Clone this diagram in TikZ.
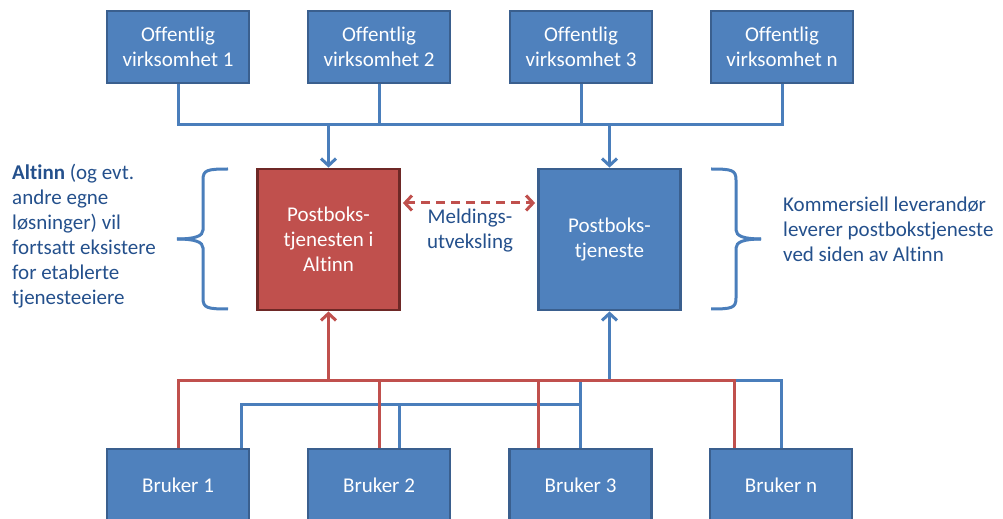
\documentclass[tikz,border=0pt]{standalone}
\usepackage{fontspec}
\setmainfont{Carlito}[Ligatures={NoCommon}]
\usetikzlibrary{arrows.meta}
\definecolor{boxblue}{HTML}{4F81BD}
\definecolor{boxblueline}{HTML}{3A5F8E}
\definecolor{boxred}{HTML}{C0504D}
\definecolor{boxredline}{HTML}{6E2826}
\definecolor{lineblue}{HTML}{4A7EBB}
\definecolor{linered}{HTML}{C0504D}
\definecolor{textblue}{HTML}{24508C}
\tikzset{
  box/.style={draw=boxblueline, fill=boxblue, line width=2.8bp, text=white, align=center,
    minimum width=142bp, minimum height=72bp, inner sep=0pt, font=\fontsize{21bp}{25bp}\selectfont},
  bigbox/.style={box, minimum width=142bp, minimum height=141bp},
  bl/.style={draw=lineblue, line width=3bp},
  rd/.style={draw=linered, line width=3bp},
  tip/.style={-{Straight Barb[length=7bp,width=15bp,line width=3bp]}},
  sidetext/.style={text=textblue, align=left, inner sep=0pt, font=\fontsize{21bp}{25bp}\selectfont},
  brace/.style={draw=lineblue, line width=3bp}
}
\begin{document}
\begin{tikzpicture}[x=1bp,y=-1bp]
\useasboundingbox (0,0) rectangle (1003,519);
% top boxes
\node[box] (t1) at (178,47) {Offentlig\\virksomhet 1};
\node[box] (t2) at (379,47) {Offentlig\\virksomhet 2};
\node[box] (t3) at (581,47) {Offentlig\\virksomhet 3};
\node[box] (t4) at (782,47) {Offentlig\\virksomhet n};
% middle boxes
\node[bigbox, draw=boxredline, fill=boxred] (red) at (328.5,239.5) {Postboks-\\tjenesten i\\Altinn};
\node[bigbox] (blue) at (609.5,239.5) {Postboks-\\tjeneste};
% bottom boxes
\node[box] (b1) at (178,485) {Bruker 1};
\node[box] (b2) at (379,485) {Bruker 2};
\node[box] (b3) at (580.5,485) {Bruker 3};
\node[box] (bn) at (781,485) {Bruker n};
% bus coordinates
\coordinate (topbus) at (0,125);
\coordinate (rbus) at (0,380);
\coordinate (bbus) at (0,404);
\coordinate (dashy) at (0,203);
% top connectors
\draw[bl] (t1.south) -- (t1.south |- topbus) -- (t4.south |- topbus) -- (t4.south);
\draw[bl] (t2.south) -- (t2.south |- topbus);
\draw[bl] (t3.south) -- (t3.south |- topbus);
\draw[bl,tip] (red.north |- topbus) -- (red.north);
\draw[bl,tip] (blue.north |- topbus) -- (blue.north);
% bottom blue connectors
\draw[bl] ([xshift=63bp]b1.north) -- ([xshift=63bp]b1.north |- bbus) -- (b3.north |- bbus);
\draw[bl] ([xshift=20bp]b2.north) -- ([xshift=20bp]b2.north |- bbus);
\draw[bl] (b3.north) -- (b3.north |- rbus) -- (bn.north |- rbus) -- (bn.north);
\draw[bl,tip] (blue.south |- rbus) -- (blue.south);
% bottom red connectors
\draw[rd] (b1.north) -- (b1.north |- rbus) -- ([xshift=-47bp]bn.north |- rbus) -- ([xshift=-47bp]bn.north);
\draw[rd] (b2.north) -- (b2.north |- rbus);
\draw[rd] ([xshift=-42bp]b3.north) -- ([xshift=-42bp]b3.north |- rbus);
\draw[rd,tip] (red.south |- rbus) -- (red.south);
% message exchange
\draw[rd, dash pattern=on 9bp off 6bp, {Straight Barb[length=7bp,width=15bp,line width=3bp]}-{Straight Barb[length=7bp,width=15bp,line width=3bp]}]
  ([xshift=2bp]red.east |- dashy) -- ([xshift=-2bp]blue.west |- dashy);
\node[sidetext, align=center] (mld) at (470,231) {Meldings-\\utveksling};
% braces
\draw[brace] (228,169) .. controls (207,169) and (203,170) .. (203,180) -- (203,230)
  .. controls (203,236) and (195,239) .. (177,239);
\draw[brace] (228,309) .. controls (207,309) and (203,308) .. (203,298) -- (203,248)
  .. controls (203,242) and (195,239) .. (177,239);
\draw[brace] (711,169) .. controls (732,169) and (736,170) .. (736,180) -- (736,230)
  .. controls (736,236) and (744,239) .. (761,239);
\draw[brace] (711,309) .. controls (732,309) and (736,308) .. (736,298) -- (736,248)
  .. controls (736,242) and (744,239) .. (761,239);
% side texts
\node[sidetext, anchor=west] (lefttext) at (12,236) {\textbf{Altinn} (og evt.\\andre egne\\løsninger) vil\\fortsatt eksistere\\for etablerte\\tjenesteeiere};
\node[sidetext, anchor=west] (righttext) at (783,229.5) {Kommersiell leverandør\\leverer postbokstjeneste\\ved siden av Altinn};
\end{tikzpicture}
\end{document}
